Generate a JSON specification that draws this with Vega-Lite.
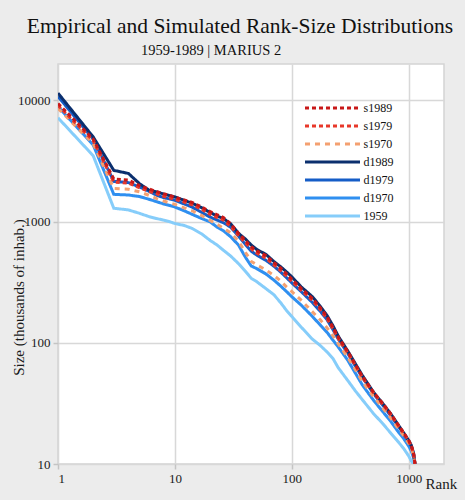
{
  "$schema": "https://vega.github.io/schema/vega-lite/v6.json",
  "width": 386,
  "height": 400,
  "autosize": {"type": "none"},
  "padding": {"left": 58, "top": 64, "right": 21, "bottom": 36},
  "background": "#ececec",
  "view": {"fill": "#ffffff", "stroke": "#d4d4d4", "strokeWidth": 1.5},
  "title": {
    "text": "Empirical and Simulated Rank-Size Distributions",
    "subtitle": "1959-1989 | MARIUS 2\u00a0\u00a0\u00a0\u00a0\u00a0\u00a0\u00a0\u00a0\u00a0\u00a0\u00a0\u00a0\u00a0\u00a0\u00a0\u00a0\u200b",
    "anchor": "middle",
    "frame": "group",
    "dx": -11,
    "offset": 7,
    "font": "Liberation Serif",
    "fontSize": 21.5,
    "fontWeight": "normal",
    "color": "#111111",
    "subtitleFont": "Liberation Serif",
    "subtitleFontSize": 14.5,
    "subtitleColor": "#111111",
    "subtitlePadding": 6
  },
  "data": {
    "values": [
      {"rank": 1, "s1989": 9450, "s1979": 9100, "s1970": 8600, "d1989": 11500, "d1979": 10800, "d1970": 8900, "1959": 7200},
      {"rank": 2, "s1989": 4800, "s1979": 4650, "s1970": 4400, "d1989": 5000, "d1979": 4800, "d1970": 4300, "1959": 3500},
      {"rank": 3, "s1989": 2250, "s1979": 2120, "s1970": 1880, "d1989": 2650, "d1979": 2150, "d1970": 1680, "1959": 1290},
      {"rank": 4, "s1989": 2200, "s1979": 2080, "s1970": 1850, "d1989": 2500, "d1979": 2100, "d1970": 1660, "1959": 1250},
      {"rank": 5, "s1989": 1980, "s1979": 1900, "s1970": 1760, "d1989": 2050, "d1979": 1930, "d1970": 1610, "1959": 1170},
      {"rank": 6, "s1989": 1860, "s1979": 1780, "s1970": 1650, "d1989": 1820, "d1979": 1780, "d1970": 1530, "1959": 1100},
      {"rank": 7, "s1989": 1770, "s1979": 1700, "s1970": 1550, "d1989": 1760, "d1979": 1650, "d1970": 1460, "1959": 1060},
      {"rank": 8, "s1989": 1700, "s1979": 1620, "s1970": 1480, "d1989": 1690, "d1979": 1580, "d1970": 1400, "1959": 1030},
      {"rank": 9, "s1989": 1650, "s1979": 1570, "s1970": 1430, "d1989": 1640, "d1979": 1540, "d1970": 1360, "1959": 1000},
      {"rank": 10, "s1989": 1590, "s1979": 1530, "s1970": 1390, "d1989": 1600, "d1979": 1500, "d1970": 1320, "1959": 965},
      {"rank": 12, "s1989": 1510, "s1979": 1450, "s1970": 1300, "d1989": 1500, "d1979": 1400, "d1970": 1230, "1959": 930},
      {"rank": 14, "s1989": 1440, "s1979": 1380, "s1970": 1230, "d1989": 1420, "d1979": 1320, "d1970": 1150, "1959": 880},
      {"rank": 17, "s1989": 1320, "s1979": 1260, "s1970": 1120, "d1989": 1300, "d1979": 1190, "d1970": 1060, "1959": 790},
      {"rank": 20, "s1989": 1210, "s1979": 1150, "s1970": 1025, "d1989": 1190, "d1979": 1090, "d1970": 995, "1959": 700},
      {"rank": 23, "s1989": 1140, "s1979": 1080, "s1970": 950, "d1989": 1110, "d1979": 1030, "d1970": 900, "1959": 640},
      {"rank": 26, "s1989": 1080, "s1979": 1030, "s1970": 880, "d1989": 1060, "d1979": 980, "d1970": 840, "1959": 580},
      {"rank": 30, "s1989": 960, "s1979": 910, "s1970": 810, "d1989": 960, "d1979": 900, "d1970": 750, "1959": 520},
      {"rank": 35, "s1989": 800, "s1979": 770, "s1970": 690, "d1989": 800, "d1979": 760, "d1970": 640, "1959": 450},
      {"rank": 40, "s1989": 700, "s1979": 670, "s1970": 560, "d1989": 720, "d1979": 650, "d1970": 510, "1959": 390},
      {"rank": 45, "s1989": 620, "s1979": 595, "s1970": 470, "d1989": 640, "d1979": 570, "d1970": 430, "1959": 340},
      {"rank": 50, "s1989": 575, "s1979": 550, "s1970": 440, "d1989": 590, "d1979": 530, "d1970": 410, "1959": 320},
      {"rank": 60, "s1989": 525, "s1979": 500, "s1970": 400, "d1989": 537, "d1979": 480, "d1970": 370, "1959": 280},
      {"rank": 70, "s1989": 460, "s1979": 440, "s1970": 360, "d1989": 470, "d1979": 430, "d1970": 330, "1959": 250},
      {"rank": 80, "s1989": 415, "s1979": 395, "s1970": 325, "d1989": 425, "d1979": 385, "d1970": 295, "1959": 215},
      {"rank": 90, "s1989": 372, "s1979": 355, "s1970": 290, "d1989": 385, "d1979": 345, "d1970": 265, "1959": 185},
      {"rank": 100, "s1989": 335, "s1979": 322, "s1970": 265, "d1989": 350, "d1979": 312, "d1970": 240, "1959": 165},
      {"rank": 120, "s1989": 282, "s1979": 272, "s1970": 225, "d1989": 290, "d1979": 265, "d1970": 205, "1959": 135},
      {"rank": 150, "s1989": 232, "s1979": 224, "s1970": 180, "d1989": 240, "d1979": 215, "d1970": 165, "1959": 107},
      {"rank": 175, "s1989": 195, "s1979": 188, "s1970": 155, "d1989": 200, "d1979": 182, "d1970": 140, "1959": 95},
      {"rank": 200, "s1989": 164, "s1979": 158, "s1970": 133, "d1989": 168, "d1979": 155, "d1970": 122, "1959": 84},
      {"rank": 225, "s1989": 134, "s1979": 130, "s1970": 114, "d1989": 138, "d1979": 128, "d1970": 105, "1959": 74},
      {"rank": 250, "s1989": 111, "s1979": 108, "s1970": 98, "d1989": 113, "d1979": 107, "d1970": 92, "1959": 62},
      {"rank": 300, "s1989": 85, "s1979": 83, "s1970": 76, "d1989": 86, "d1979": 82, "d1970": 72, "1959": 49},
      {"rank": 350, "s1989": 66, "s1979": 65, "s1970": 60, "d1989": 67, "d1979": 64, "d1970": 56, "1959": 40},
      {"rank": 400, "s1989": 53, "s1979": 52, "s1970": 48, "d1989": 54, "d1979": 52, "d1970": 45, "1959": 34},
      {"rank": 500, "s1989": 39, "s1979": 38.5, "s1970": 36, "d1989": 39, "d1979": 38, "d1970": 33.5, "1959": 26},
      {"rank": 600, "s1989": 31.5, "s1979": 31, "s1970": 29, "d1989": 31.5, "d1979": 30.5, "d1970": 27, "1959": 21.5},
      {"rank": 700, "s1989": 26, "s1979": 25.5, "s1970": 24, "d1989": 26, "d1979": 25, "d1970": 22.5, "1959": 18},
      {"rank": 800, "s1989": 21.5, "s1979": 21.2, "s1970": 20, "d1989": 21.5, "d1979": 21, "d1970": 18.8, "1959": 15.5},
      {"rank": 900, "s1989": 18.2, "s1979": 18, "s1970": 17.2, "d1989": 18.2, "d1979": 17.8, "d1970": 16.3, "1959": 13.5},
      {"rank": 1000, "s1989": 15.6, "s1979": 15.4, "s1970": 14.8, "d1989": 15.6, "d1979": 15.2, "d1970": 14, "1959": 11.6},
      {"rank": 1050, "s1989": 14.3, "s1979": 14.1, "s1970": 13.5, "d1989": 14.3, "d1979": 14, "d1970": 12.8, "1959": 10.6},
      {"rank": 1100, "s1989": 12.2, "s1979": 12, "s1970": 11.6, "d1989": 12.2, "d1979": 12, "d1970": 11.2, "1959": 10},
      {"rank": 1130, "s1989": 10, "s1979": 10, "s1970": 10, "d1989": 10, "d1979": 10, "d1970": 10}
    ]
  },
  "transform": [
    {"fold": ["1959", "d1970", "d1979", "d1989", "s1970", "s1979", "s1989"], "as": ["series", "size"]},
    {"filter": "isValid(datum.size)"}
  ],
  "mark": {"type": "line", "strokeWidth": 3, "clip": true},
  "encoding": {
    "x": {
      "field": "rank",
      "type": "quantitative",
      "scale": {"type": "log", "domain": [1, 2000], "nice": false},
      "axis": {
        "values": [1, 10, 100, 1000],
        "format": "d",
        "labelFont": "Liberation Serif",
        "titleFont": "Liberation Serif",
        "title": "Rank",
        "titleX": 367,
        "titleY": 24,
        "titleAlign": "left",
        "titleBaseline": "alphabetic",
        "titleAnchor": null
      }
    },
    "y": {
      "field": "size",
      "type": "quantitative",
      "scale": {"type": "log", "domain": [10, 20000], "nice": false},
      "axis": {
        "values": [10, 100, 1000, 10000],
        "format": "d",
        "labelFont": "Liberation Serif",
        "titleFont": "Liberation Serif",
        "title": "Size (thousands of inhab.)",
        "titleX": -35,
        "titleY": 233,
        "titleAlign": "center",
        "titleBaseline": "alphabetic",
        "titleAngle": -90
      }
    },
    "color": {
      "field": "series",
      "type": "nominal",
      "scale": {
        "domain": ["s1989", "s1979", "s1970", "d1989", "d1979", "d1970", "1959"],
        "range": ["#c81818", "#e8382a", "#f4a070", "#0b2f6e", "#155dc7", "#2f8ff0", "#86cdfa"]
      },
      "legend": {"title": null, "labelFont": "Liberation Serif"}
    },
    "strokeDash": {
      "field": "series",
      "type": "nominal",
      "scale": {
        "domain": ["s1989", "s1979", "s1970", "d1989", "d1979", "d1970", "1959"],
        "range": [[4, 3], [4, 3], [5, 5], [1, 0], [1, 0], [1, 0], [1, 0]]
      },
      "legend": {"title": null, "labelFont": "Liberation Serif"}
    }
  },
  "config": {
    "font": "Liberation Serif",
    "axis": {
      "grid": true,
      "gridColor": "#d8d8d8",
      "gridWidth": 1.5,
      "domain": false,
      "tickColor": "#c4c4c4",
      "tickSize": 5,
      "tickWidth": 1.5,
      "labelFont": "Liberation Serif",
      "labelFontSize": 13,
      "labelColor": "#1a1a1a",
      "labelPadding": 3,
      "titleFont": "Liberation Serif",
      "titleFontSize": 15,
      "titleFontWeight": "normal",
      "titleColor": "#1a1a1a"
    },
    "legend": {
      "orient": "none",
      "legendX": 245.5,
      "legendY": 37,
      "padding": 0,
      "symbolType": "M-1,0H9",
      "symbolSize": 121,
      "symbolStrokeWidth": 3,
      "labelFont": "Liberation Serif",
      "labelFontSize": 12,
      "labelColor": "#111111",
      "labelOffset": 46,
      "rowPadding": 5
    }
  }
}
